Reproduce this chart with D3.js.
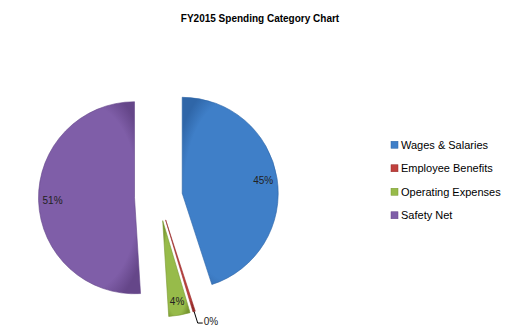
<!DOCTYPE html>
<html>
<head>
<meta charset="utf-8">
<script src="https://cdn.jsdelivr.net/npm/d3@7"></script>
<style>
  body { margin: 0; background: #fff; }
  svg { font-family: "Liberation Sans", Arial, sans-serif; }
</style>
</head>
<body>
<div id="chart"></div>
<script>
// donnees du graphique
const categories = ["Wages & Salaries", "Employee Benefits", "Operating Expenses", "Safety Net"];
const values = [45.0, 0.4, 3.6, 51.0];
const labels = ["45%", "0%", "4%", "51%"];
const colors = ["#3f7fc8", "#c0403d", "#97bb4a", "#7f5ea8"];
const darks = ["#2f66a8", "#962a28", "#78972f", "#654689"];

const width = 520, height = 334;
const cx = 158.5, cy = 197, r = 96, explode = 24;

const svg = d3.select("#chart")
    .append("svg")
    .attr("width", width)
    .attr("height", height);

// titre
svg.append("text")
    .attr("x", 260)
    .attr("y", 22)
    .attr("text-anchor", "middle")
    .attr("font-size", "10px")
    .attr("font-weight", "bold")
    .text("FY2015 Spending Category Chart");

// degrades
const defs = svg.append("defs");
colors.forEach(function(c, i) {
    const g = defs.append("radialGradient")
        .attr("id", "grad" + i)
        .attr("cx", "50%").attr("cy", "50%").attr("r", "60%");
    g.append("stop").attr("offset", "0%").attr("stop-color", c);
    g.append("stop").attr("offset", "80%").attr("stop-color", c);
    g.append("stop").attr("offset", "100%").attr("stop-color", darks[i]);
});

const pie = d3.pie().sort(null).value(function(d) { return d; });
const arcs = pie(values);
const arc = d3.arc().innerRadius(0).outerRadius(r);

const slices = svg.append("g")
    .attr("transform", `translate(${cx},${cy})`);

arcs.forEach(function(d, i) {
    const mid = (d.startAngle + d.endAngle) / 2;
    const ox = explode * Math.sin(mid), oy = -explode * Math.cos(mid);
    const g = slices.append("g")
        .attr("transform", `translate(${ox},${oy})`);
    g.append("path")
        .attr("d", arc(d))
        .attr("fill", "url(#grad" + i + ")")
        .attr("stroke", darks[i])
        .attr("stroke-width", 0.6);

    // etiquettes
    if (d.data >= 1) {
        const lr = 82;
        g.append("text")
            .attr("x", lr * Math.sin(mid))
            .attr("y", -lr * Math.cos(mid))
            .attr("dy", "0.35em")
            .attr("text-anchor", "middle")
            .attr("font-size", "10px")
            .attr("fill", "#222")
            .text(labels[i]);
    } else {
        const x1 = r * Math.sin(mid), y1 = -r * Math.cos(mid);
        const x2 = (r + 12) * Math.sin(mid), y2 = -(r + 12) * Math.cos(mid);
        g.append("polyline")
            .attr("points", `${x1},${y1} ${x2},${y2} ${x2 + 5},${y2}`)
            .attr("fill", "none")
            .attr("stroke", "#000")
            .attr("stroke-width", 1);
        g.append("text")
            .attr("x", x2 + 6)
            .attr("y", y2 - 2)
            .attr("dy", "0.35em")
            .attr("font-size", "10px")
            .attr("fill", "#222")
            .text(labels[i]);
    }
});

// legende
const y = d3.scaleBand()
    .domain(categories)
    .range([133, 227]);

const legend = svg.append("g");
categories.forEach(function(c, i) {
    const yy = y(c) + y.bandwidth() / 2;
    legend.append("rect")
        .attr("x", 391)
        .attr("y", yy - 3.5)
        .attr("width", 7)
        .attr("height", 7)
        .attr("fill", colors[i])
        .attr("stroke", darks[i])
        .attr("stroke-width", 0.5);
    legend.append("text")
        .attr("x", 401)
        .attr("y", yy)
        .attr("dy", "0.35em")
        .attr("font-size", "11px")
        .attr("fill", "#000")
        .text(c);
});
</script>
</body>
</html>
